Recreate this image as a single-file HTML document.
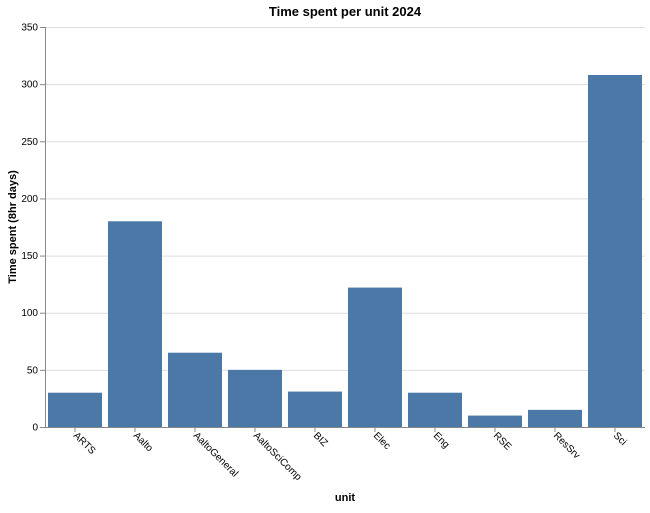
<!DOCTYPE html>
<html><head><meta charset="utf-8"><style>
body{margin:0;background:#fff;}
svg{font-family:"Liberation Sans","DejaVu Sans",sans-serif;}
</style></head><body>
<svg id="chart" width="650" height="508" xmlns="http://www.w3.org/2000/svg"></svg>
<script>
const categories = ["ARTS","Aalto","AaltoGeneral","AaltoSciComp","BIZ","Elec","Eng","RSE","ResSrv","Sci"];
const values = [30, 180, 65, 50, 31, 122, 30, 10, 15, 308];
const yTicks = [0,50,100,150,200,250,300,350];

const svg = document.getElementById('chart');
const NS = 'http://www.w3.org/2000/svg';
const X0 = 45, X1 = 645, Y0 = 427, Y1 = 27, YMAX = 350;
const step = (X1 - X0) / categories.length;
const bw = step * 0.9;
const y = v => Y0 - (v / YMAX) * (Y0 - Y1);
const x = i => X0 + i * step + step * 0.05;
function el(tag, attrs, parent) {
  const e = document.createElementNS(NS, tag);
  for (const k in attrs) e.setAttribute(k, attrs[k]);
  (parent || svg).appendChild(e);
  return e;
}
yTicks.forEach(t => {
  const g = el('line', {x1: X0, x2: X1, y1: y(t)+0.5, y2: y(t)+0.5, stroke: '#ddd'});
  
  
});
categories.forEach((c, i) => {
  const r = el('rect', {x: x(i), y: y(values[i]), width: bw, height: Y0 - y(values[i]), fill: '#4c78a8'});
  
  
});
const ya = el('line', {x1: X0+0.5, x2: X0+0.5, y1: Y1, y2: Y0, stroke: '#888'});


const xa = el('line', {x1: X0, x2: X1, y1: Y0+0.5, y2: Y0+0.5, stroke: '#888'});


yTicks.forEach(t => {
  const tk = el('line', {x1: X0-5, x2: X0, y1: y(t)+0.5, y2: y(t)+0.5, stroke: '#888'});
  
  
  const tx = el('text', {x: X0-7, y: y(t)+3.5, 'text-anchor': 'end', 'font-size': 10, fill: '#000'});
  tx.textContent = t;
  
  
});
categories.forEach((c, i) => {
  const cx = X0 + i * step + step / 2;
  const tk = el('line', {x1: cx, x2: cx, y1: Y0, y2: Y0+5, stroke: '#888'});
  
  
  const lx = cx - 2, ly = Y0 + 9;
  const tx = el('text', {x: lx, y: ly, 'font-size': 10, fill: '#000', 'textLength': c.length ? undefined : 0, transform: `rotate(45 ${lx} ${ly})`});
  tx.removeAttribute('textLength');
  tx.textContent = c;
  
  
});
const t1 = el('text', {x: 345, y: 16, 'text-anchor': 'middle', 'font-size': 13, 'font-weight': 'bold'});
t1.textContent = 'Time spent per unit 2024';


const t2 = el('text', {x: 345, y: 501, 'text-anchor': 'middle', 'font-size': 11, 'font-weight': 'bold'});
t2.textContent = 'unit';


const t3 = el('text', {x: 16, y: 227, 'text-anchor': 'middle', 'font-size': 11, 'font-weight': 'bold', transform: 'rotate(-90 16 227)'});
t3.textContent = 'Time spent (8hr days)';


</script>
</body></html>
